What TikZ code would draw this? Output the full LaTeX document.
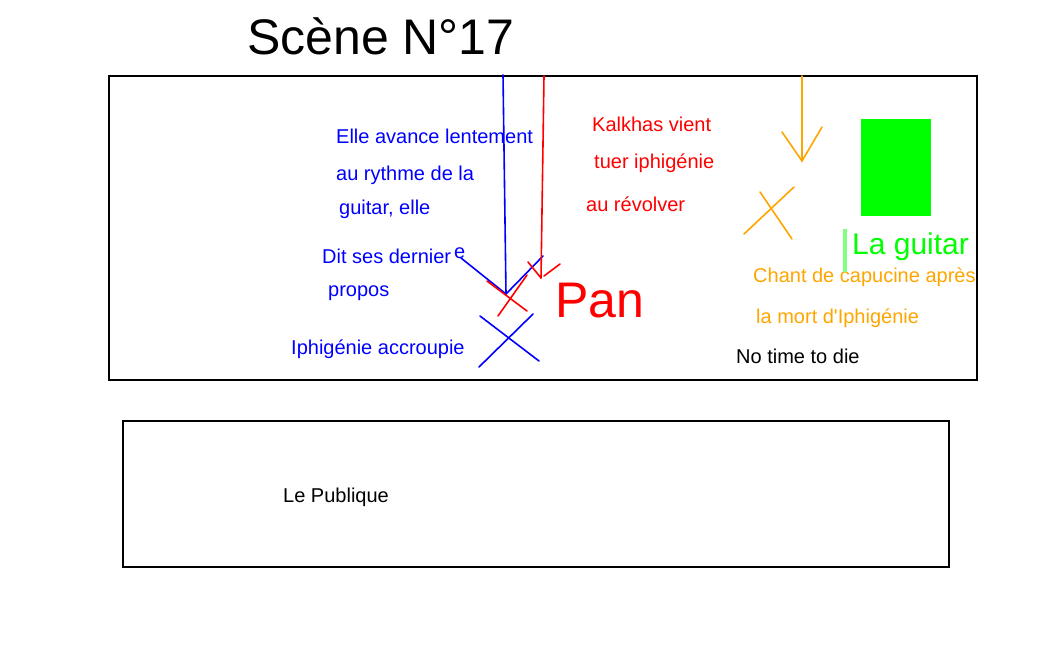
\documentclass[tikz,border=0pt]{standalone}
\usepackage{fontspec}
\setmainfont{Liberation Sans}[Ligatures=TeXOff]
\usepackage{xcolor}
\definecolor{bleu}{RGB}{0,0,255}
\definecolor{rouge}{RGB}{255,0,0}
\definecolor{orangec}{RGB}{255,165,0}
\definecolor{vert}{RGB}{0,255,0}
\definecolor{vertclair}{RGB}{128,255,128}
\tikzset{
	txt/.style={anchor=base west,inner sep=0pt,font=\fontsize{20}{24}\selectfont},
	trait/.style={line width=1.6pt,line cap=round}
}

\begin{document}
\begin{tikzpicture}[x=1pt,y=-1pt]
	\useasboundingbox (0,0) rectangle (1054,646);
	\path (247,54) node(titre)[anchor=base west,inner sep=0pt,font=\fontsize{50}{60}\selectfont]{Scène N°17};
	\draw[line width=1.6pt] (109,76) rectangle (977,380);
	\draw[line width=1.6pt] (123,421) rectangle (949,567);
	\path[color=bleu] (336,143) node(b1)[txt]{Elle avance lentement};
	\path[color=bleu] (336,180) node(b2)[txt]{au rythme de la};
	\path[color=bleu] (339,214) node(b3)[txt]{guitar, elle};
	\path[color=bleu] (322,263) node(b4)[txt]{Dit ses dernier};
	\path[color=bleu] (454,258) node(b5)[txt]{e};
	\path[color=bleu] (328,296) node(b6)[txt]{propos};
	\path[color=bleu] (291,354) node(b7)[txt]{Iphigénie accroupie};
	\path[color=rouge] (592,131) node(r1)[txt]{Kalkhas vient};
	\path[color=rouge] (594,168) node(r2)[txt]{tuer iphigénie};
	\path[color=rouge] (586,211) node(r3)[txt]{au révolver};
	\path[color=rouge] (555,317) node(pan)[anchor=base west,inner sep=0pt,font=\fontsize{50}{60}\selectfont]{Pan};
	\path[color=orangec] (753,282) node(o1)[txt]{Chant de capucine après};
	\path[color=orangec] (756,323) node(o2)[txt]{la mort d'Iphigénie};
	\path (736,363) node(n1)[txt]{No time to die};
	\path[color=vert] (852,254) node(g1)[anchor=base west,inner sep=0pt,font=\fontsize{30}{36}\selectfont]{La guitar};
	\path (283,502) node(pub)[txt]{Le Publique};
	\fill[vert] (861,119) rectangle (931,216);
	\draw[color=vertclair,line width=4pt] (845,229)--(845,272);
	\coordinate (bh) at (503,75);
	\coordinate (bp) at (506,294);
	\coordinate (rh) at (544,76);
	\coordinate (rp) at (541,278);
	\coordinate (oh) at (802,76);
	\coordinate (op) at (802,161);
	\draw[color=bleu,trait] (bh)--(bp);
	\draw[color=bleu,trait] (461,258)--(bp)--(543,256);
	\draw[color=rouge,trait] (rh)--(rp);
	\draw[color=rouge,trait] (528,262)--(rp);
	\draw[color=rouge,trait] (544,276)--(560,264);
	\draw[color=rouge,trait] (487,281)--(527,311);
	\draw[color=rouge,trait] (498,316)--(527,275);
	\draw[color=bleu,trait] (480,316)--(539,361);
	\draw[color=bleu,trait] (479,367)--(533,314);
	\draw[color=orangec,trait] (oh)--(op);
	\draw[color=orangec,trait] (782,132)--(op)--(822,127);
	\draw[color=orangec,trait] (744,234)--(794,187);
	\draw[color=orangec,trait] (760,192)--(792,239);
\end{tikzpicture}
\end{document}
